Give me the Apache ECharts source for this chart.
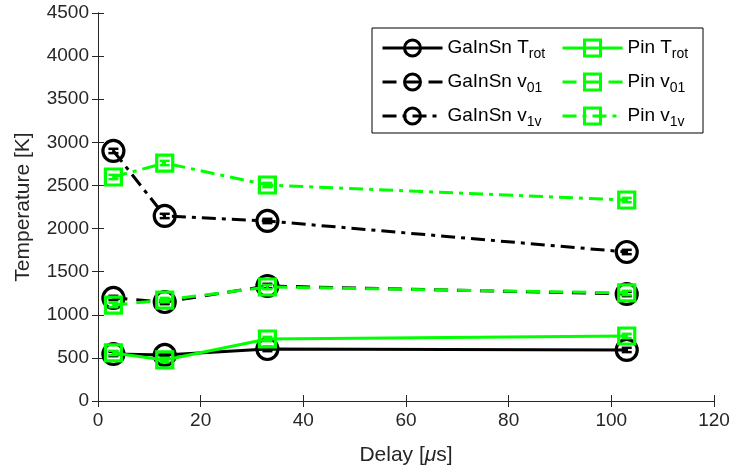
<!DOCTYPE html>
<html><head><meta charset="utf-8">
<script src="https://cdn.jsdelivr.net/npm/echarts@6/dist/echarts.min.js"></script>
<style>html,body{margin:0;padding:0;background:#fff}#c{width:734px;height:473px}</style>
</head><body><div id="c"></div>
<script>
const delays = [3, 13, 33, 103];
const gaTrot = [545, 534, 603, 592];
const gaV01  = [1195, 1148, 1334, 1241];
const gaV1v  = [2900, 2146, 2088, 1728];
const pinTrot = [557, 476, 719, 754];
const pinV01  = [1113, 1171, 1322, 1253];
const pinV1v  = [2598, 2760, 2505, 2331];
const errSmall = [25, 25, 25, 25];
const xTicks = [0, 20, 40, 60, 80, 100, 120];
const yTicks = [0, 500, 1000, 1500, 2000, 2500, 3000, 3500, 4000, 4500];

const FONT = 'Liberation Sans, Arial, sans-serif';
const AX = '#262626';
const GREEN = '#00ff00';
const dashV01 = [14, 9];
const dashV1v = [14, 6, 4, 6];

function pts(vals){ return delays.map((d,i)=>[d, vals[i]]); }
function errData(vals){ return delays.map((d,i)=>[d, vals[i]-errSmall[i], vals[i]+errSmall[i]]); }

function lineSeries(name, vals, color, dash, symbol, size){
  return {
    name, type:'line', data: pts(vals), symbol, symbolSize:size,
    lineStyle:{color, width:3, type:dash},
    itemStyle:{color:'rgba(255,255,255,0)', borderColor:color, borderWidth:3.2},
    z: color===GREEN ? 4 : 2, animation:false
  };
}
function errSeries(vals, color){
  return {
    type:'custom', data: errData(vals), z: color===GREEN ? 5 : 3, silent:true, animation:false,
    renderItem(params, api){
      const x = api.value(0);
      const lo = api.coord([x, api.value(1)]);
      const hi = api.coord([x, api.value(2)]);
      const w = 5;
      const st = {stroke: color, lineWidth: 2.5};
      return {type:'group', children:[
        {type:'line', shape:{x1:lo[0],y1:lo[1],x2:hi[0],y2:hi[1]}, style:st},
        {type:'line', shape:{x1:lo[0]-w,y1:lo[1],x2:lo[0]+w,y2:lo[1]}, style:st},
        {type:'line', shape:{x1:hi[0]-w,y1:hi[1],x2:hi[0]+w,y2:hi[1]}, style:st}
      ]};
    }
  };
}

const names = {
  'GaInSn Trot':'{n|GaInSn T}{s|rot}',
  'GaInSn v01':'{n|GaInSn v}{s|01}',
  'GaInSn v1v':'{n|GaInSn v}{s|1v}',
  'Pin Trot':'{n|Pin T}{s|rot}',
  'Pin v01':'{n|Pin v}{s|01}',
  'Pin v1v':'{n|Pin v}{s|1v}'
};
const legendText = {
  fontFamily: FONT, color:'#000',
  rich:{
    n:{fontSize:19, fontFamily:FONT, color:'#000', lineHeight:26, verticalAlign:'middle'},
    s:{fontSize:14, fontFamily:FONT, color:'#000', lineHeight:26, verticalAlign:'bottom', padding:[12,0,0,0]}
  }
};
function legend(data, left){
  return {
    data, left, top:35, orient:'vertical', itemGap:8, itemWidth:60, itemHeight:20,
    formatter: n => names[n], textStyle: legendText, selectedMode:false, padding:0,
    lineStyle:{width:3}, itemStyle:{borderWidth:3}, zlevel:1
  };
}

const chart = echarts.init(document.getElementById('c'), null, {renderer:'canvas'});
chart.setOption({
  animation:false,
  backgroundColor:'#fff',
  grid:{left:98, right:20, top:13, bottom:72, containLabel:false},
  graphic:[{type:'rect', shape:{x:372, y:28, width:331, height:105}, style:{fill:'#fff', stroke:'#000', lineWidth:1}, z:-1, zlevel:1}],
  legend:[
    legend(['GaInSn Trot','GaInSn v01','GaInSn v1v'], 381),
    legend(['Pin Trot','Pin v01','Pin v1v'], 561)
  ],
  xAxis:[
    {type:'value', min:0, max:120, interval:20, position:'bottom',
     name:'Delay [{i|μ}s]', nameLocation:'middle', nameGap:44,
     nameTextStyle:{fontFamily:FONT, fontSize:21, color:AX, rich:{i:{fontStyle:'italic', fontFamily:FONT, fontSize:21, color:AX}}},
     axisLine:{show:true, lineStyle:{color:AX, width:1}},
     axisTick:{show:true, inside:true, length:6, lineStyle:{color:AX}},
     axisLabel:{fontFamily:FONT, fontSize:19, color:AX, margin:10, formatter:v=>xTicks.includes(v)?String(v):''},
     splitLine:{show:false}},
    {type:'value', min:0, max:120, interval:20, position:'top',
     axisLine:{show:true, lineStyle:{color:AX, width:1}},
     axisTick:{show:true, inside:true, length:6, lineStyle:{color:AX}},
     axisLabel:{show:false}, splitLine:{show:false}}
  ],
  yAxis:[
    {type:'value', min:0, max:4500, interval:500, position:'left',
     name:'Temperature [K]', nameLocation:'middle', nameGap:64, nameRotate:90,
     nameTextStyle:{fontFamily:FONT, fontSize:21, color:AX},
     axisLine:{show:true, lineStyle:{color:AX, width:1}},
     axisTick:{show:true, inside:true, length:6, lineStyle:{color:AX}},
     axisLabel:{fontFamily:FONT, fontSize:19, color:AX, margin:9, formatter:v=>yTicks.includes(v)?String(v):''},
     splitLine:{show:false}},
    {type:'value', min:0, max:4500, interval:500, position:'right',
     axisLine:{show:true, lineStyle:{color:AX, width:1}},
     axisTick:{show:true, inside:true, length:6, lineStyle:{color:AX}},
     axisLabel:{show:false}, splitLine:{show:false}}
  ],
  series:[
    lineSeries('GaInSn Trot', gaTrot, '#000', 'solid', 'circle', 21), errSeries(gaTrot,'#000'),
    lineSeries('GaInSn v01', gaV01, '#000', dashV01, 'circle', 21), errSeries(gaV01,'#000'),
    lineSeries('GaInSn v1v', gaV1v, '#000', dashV1v, 'circle', 21), errSeries(gaV1v,'#000'),
    lineSeries('Pin Trot', pinTrot, GREEN, 'solid', 'rect', 16), errSeries(pinTrot,GREEN),
    lineSeries('Pin v01', pinV01, GREEN, dashV01, 'rect', 16), errSeries(pinV01,GREEN),
    lineSeries('Pin v1v', pinV1v, GREEN, dashV1v, 'rect', 16), errSeries(pinV1v,GREEN)
  ]
});
</script></body></html>
